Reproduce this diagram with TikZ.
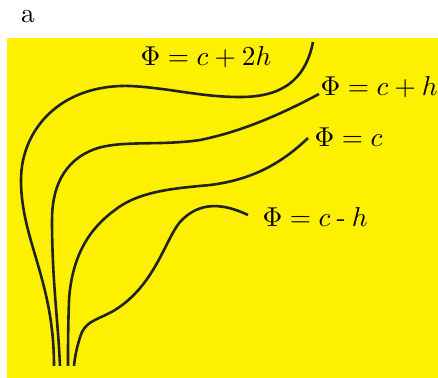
\documentclass[tikz,border=0pt]{standalone}
\usepackage{amsmath}
\usepackage{tikz}
\definecolor{panelyellow}{RGB}{253,240,0}
\definecolor{linegray}{RGB}{34,34,34}
\tikzset{
  contour/.style={
    line width=0.95pt,
    linegray
  },
  etiqueta/.style={
    anchor=west,
    inner sep=0pt
  }
}

\begin{document}
\begin{tikzpicture}[x=0.366pt,y=-0.366pt]
\useasboundingbox (0,0) rectangle (438,378);
\fill[panelyellow] (7,38) rectangle (438,378);
\node[inner sep=0pt] (panel) at (28,17) {a};
% level lines
\coordinate (e1) at (313,42);
\coordinate (e2) at (319,94);
\coordinate (e3) at (308,138);
\coordinate (e4) at (248,215);
\draw[contour] (e1) .. controls (305,82) and (280,97) .. (240,97)
  .. controls (200,97) and (170,88) .. (130,86)
  .. controls (60,84) and (21,130) .. (21,180)
  .. controls (21,240) and (54,280) .. (54,366);
\draw[contour] (e2) .. controls (280,115) and (240,132) .. (200,140)
  .. controls (160,146) and (120,140) .. (95,149)
  .. controls (62,161) and (52,190) .. (52,220)
  .. controls (52,280) and (58,320) .. (60,366);
\draw[contour] (e3) .. controls (280,165) and (250,180) .. (210,185)
  .. controls (180,188) and (140,190) .. (115,210)
  .. controls (90,228) and (72,255) .. (69,300)
  .. controls (68,330) and (68,345) .. (68,366);
\draw[contour] (e4) .. controls (225,204) and (200,200) .. (180,222)
  .. controls (165,240) and (155,285) .. (115,310)
  .. controls (100,319) and (88,320) .. (82,332)
  .. controls (78,342) and (75,355) .. (74,366);
% labels
\node[etiqueta] (l1) at (140,57) {$\Phi = c + 2h$};
\node[etiqueta] (l2) at (320,87) {$\Phi = c + h$};
\node[etiqueta] (l3) at (314,137) {$\Phi = c$};
\node[etiqueta] (l4) at (262,217) {$\Phi = c\:\text{-}\:h$};
\end{tikzpicture}
\end{document}
